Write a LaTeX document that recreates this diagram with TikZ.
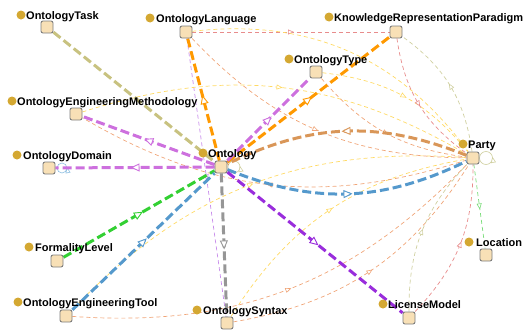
\documentclass[tikz,border=0pt]{standalone}
\usepackage{fontspec}
\setmainfont{Liberation Sans}
\usetikzlibrary{arrows.meta,decorations.markings,backgrounds}
\definecolor{boxfill}{RGB}{248,224,182}
\definecolor{boxline}{RGB}{125,125,125}
\definecolor{dotcol}{RGB}{212,168,50}
\definecolor{cOlive}{RGB}{200,194,128}
\definecolor{cOrange}{RGB}{255,153,0}
\definecolor{cViolet}{RGB}{205,112,222}
\definecolor{cBrown}{RGB}{217,150,88}
\definecolor{cBlue}{RGB}{85,153,204}
\definecolor{cPurple}{RGB}{153,45,220}
\definecolor{cGray}{RGB}{150,150,150}
\definecolor{cGreen}{RGB}{51,208,51}
\definecolor{tYellow}{RGB}{255,218,100}
\definecolor{tSalmon}{RGB}{240,165,120}
\definecolor{tPink}{RGB}{232,140,140}
\definecolor{tGreen}{RGB}{120,220,120}
\definecolor{tOlive}{RGB}{208,208,160}
\definecolor{tViolet}{RGB}{200,140,235}
\definecolor{tBlue}{RGB}{140,190,225}
\tikzset{
  cls/.style={rectangle, draw=boxline, fill=boxfill, rounded corners=2pt, minimum size=12pt, inner sep=0pt, line width=0.9pt},
  gdot/.style={circle, fill=dotcol, inner sep=0pt, minimum size=9pt},
  lbl/.style={anchor=base west, inner sep=0pt, font=\fontsize{11}{13}\selectfont\bfseries},
  bigedge/.style={line width=3pt, dash pattern=on 9pt off 4pt},
  smalledge/.style={line width=0.7pt, dash pattern=on 4pt off 3pt},
  bigarrow/.style={postaction={decorate,decoration={markings,mark=at position 0.5 with {\arrow[xshift=4.5pt]{Triangle[width=8pt,length=9pt,fill=white,line width=0.9pt]}}}}},
  smallarrow/.style={postaction={decorate,decoration={markings,mark=at position 0.5 with {\arrow[xshift=3pt]{Triangle[width=5pt,length=6pt,fill=white,line width=0.6pt]}}}}},
  looparrow/.style={postaction={decorate,decoration={markings,mark=at position 0.03 with {\arrow{Triangle[width=5pt,length=6pt,fill=white,line width=0.6pt]}}}}}
}
\begin{document}
\begin{tikzpicture}[x=1pt,y=-1pt]
\useasboundingbox (0,0) rectangle (525,332);
% class squares
\node[cls] (OT)  at (47,27) {};
\node[cls] (OL)  at (186,32) {};
\node[cls] (KRP) at (396,32) {};
\node[cls] (OTy) at (316,72) {};
\node[cls] (OEM) at (76,114) {};
\node[cls] (OD)  at (49,168) {};
\node[cls] (Ont) at (221,167) {};
\node[cls] (Pty) at (473,158) {};
\node[cls] (FL)  at (57,261) {};
\node[cls] (Loc) at (486,255) {};
\node[cls] (OET) at (66,316) {};
\node[cls] (OS)  at (227,323) {};
\node[cls] (LM)  at (409,318) {};
% dots
\node[gdot] (OT-d)  at (21,15) {};
\node[gdot] (OL-d)  at (150,18) {};
\node[gdot] (KRP-d) at (329,17) {};
\node[gdot] (OTy-d) at (289,59) {};
\node[gdot] (OEM-d) at (12,101) {};
\node[gdot] (OD-d)  at (17,155) {};
\node[gdot] (Ont-d) at (203,153) {};
\node[gdot] (Pty-d) at (463,144) {};
\node[gdot] (FL-d)  at (29,247) {};
\node[gdot] (Loc-d) at (469,242) {};
\node[gdot] (OET-d) at (18,302) {};
\node[gdot] (OS-d)  at (197,310) {};
\node[gdot] (LM-d)  at (383,304) {};
% labels
\node[lbl] (OT-l)  at (26,19.5) {OntologyTask};
\node[lbl] (OL-l)  at (156,22.5) {OntologyLanguage};
\node[lbl] (KRP-l) at (334,21.5) {KnowledgeRepresentationParadigm};
\node[lbl] (OTy-l) at (294,63.5) {OntologyType};
\node[lbl] (OEM-l) at (17,105.5) {OntologyEngineeringMethodology};
\node[lbl] (OD-l)  at (23,159.5) {OntologyDomain};
\node[lbl] (Ont-l) at (208,157.5) {Ontology};
\node[lbl] (Pty-l) at (468,148.5) {Party};
\node[lbl] (FL-l)  at (35,251.5) {FormalityLevel};
\node[lbl] (Loc-l) at (476,246.5) {Location};
\node[lbl] (OET-l) at (23,306.5) {OntologyEngineeringTool};
\node[lbl] (OS-l)  at (203,314.5) {OntologySyntax};
\node[lbl] (LM-l)  at (388,308.5) {LicenseModel};
\begin{scope}[on background layer]
% thin relations
\draw[smalledge, tViolet, smallarrow] (OL) -- (OS);
\draw[smalledge, tPink, smallarrow] (OL) -- (KRP);
\draw[smalledge, tYellow] (OL) to[bend left=30] (Pty);
\draw[smalledge, tYellow, smallarrow] (OTy) to[bend left=22] (Pty);
\draw[smalledge, tYellow, smallarrow] (OEM) to[bend left=24] (Pty);
\draw[smalledge, tYellow, smallarrow] (OET) to[bend left=25] (Pty);
\draw[smalledge, tYellow, smallarrow] (OS) to[bend left=24] (Pty);
\draw[smalledge, tSalmon, smallarrow] (OL) to[bend right=23] (Pty);
\draw[smalledge, tSalmon, smallarrow] (Pty) to[bend left=24] (OEM);
\draw[smalledge, tSalmon, smallarrow] (OTy) to[bend right=21] (Pty);
\draw[smalledge, tSalmon, smallarrow] (OET) to[bend right=25] (Pty);
\draw[smalledge, tSalmon, smallarrow] (OS) to[bend right=24] (Pty);
\draw[smalledge, tPink, smallarrow] (KRP) to[bend right=23] (Pty);
\draw[smalledge, tOlive, smallarrow] (Pty) to[bend right=23] (KRP);
\draw[smalledge, tPink, smallarrow] (LM) to[bend right=22] (Pty);
\draw[smalledge, tOlive, smallarrow] (LM) to[bend left=22] (Pty);
\draw[smalledge, tGreen, smallarrow] (Pty) -- (Loc);
% self loops
\draw[line width=0.6pt, tOlive, looparrow] ([xshift=13pt]Pty.center) circle[radius=6.5pt];
\draw[line width=0.6pt, tBlue, looparrow] ([xshift=13pt]OD.center) circle[radius=5pt];
\draw[line width=0.6pt, tOlive, looparrow] ([xshift=13pt]Ont.center) circle[radius=6pt];
% thick relations
\draw[bigedge, cOlive] (OT) -- (Ont);
\draw[bigedge, cOrange, bigarrow] (Ont) -- (OL);
\draw[bigedge, cOrange, bigarrow] (Ont) -- (KRP);
\draw[bigedge, cViolet, bigarrow] (Ont) -- (OTy);
\draw[bigedge, cViolet, bigarrow] (Ont) -- (OEM);
\draw[bigedge, cViolet, bigarrow] (Ont) -- (OD);
\draw[bigedge, cBrown, bigarrow] (Pty) to[bend right=24] (Ont);
\draw[bigedge, cBlue, bigarrow] (Ont) to[bend right=24] (Pty);
\draw[bigedge, cPurple, bigarrow] (Ont) -- (LM);
\draw[bigedge, cGray, bigarrow] (Ont) -- (OS);
\draw[bigedge, cGreen, bigarrow] (FL) -- (Ont);
\draw[bigedge, cBlue, bigarrow] (OET) -- (Ont);
\end{scope}
\end{tikzpicture}
\end{document}
